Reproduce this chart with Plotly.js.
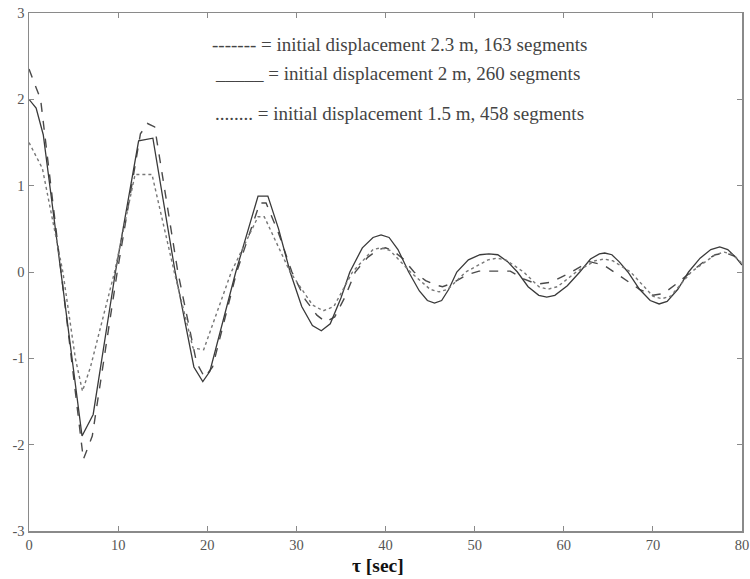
<!DOCTYPE html>
<html>
<head>
<meta charset="utf-8">
<script src="https://cdn.plot.ly/plotly-3.0.1.min.js"></script>
<style>html,body{margin:0;padding:0;background:#fff;}#chart{width:750px;height:579px;}</style>
</head>
<body>
<div id="chart"></div>
<script>
// Series: initial displacement 2 m, 260 segments (solid)
const tSolid = [0, 0.8, 1.6, 3.6, 5.95, 7.2, 9.7, 12.3, 13.9, 16.4, 18.5, 19.5, 20.3, 23.2, 25.7, 26.8, 28.0, 29.3, 30.6, 31.8, 32.8, 33.8, 35.0, 36.0, 37.4, 38.6, 39.5, 40.4, 41.4, 42.6, 43.8, 44.7, 45.5, 46.3, 47.1, 48.0, 49.3, 50.6, 51.6, 52.6, 53.7, 54.8, 56.0, 57.2, 58.1, 59.0, 60.4, 61.8, 63.0, 64.0, 64.6, 65.4, 66.2, 67.2, 68.5, 69.7, 70.7, 71.6, 72.8, 74.0, 75.3, 76.5, 77.5, 78.4, 79.3, 80];
const vSolid = [2.0, 1.9, 1.59, 0, -1.9, -1.65, 0, 1.52, 1.55, 0, -1.1, -1.27, -1.15, 0, 0.88, 0.88, 0.5, 0, -0.4, -0.62, -0.68, -0.6, -0.3, 0, 0.28, 0.4, 0.43, 0.4, 0.26, 0, -0.22, -0.33, -0.36, -0.33, -0.2, 0, 0.14, 0.2, 0.21, 0.2, 0.12, 0, -0.17, -0.27, -0.29, -0.27, -0.16, 0, 0.15, 0.21, 0.22, 0.2, 0.12, 0, -0.2, -0.33, -0.37, -0.34, -0.2, 0, 0.16, 0.26, 0.29, 0.26, 0.17, 0.08];

// Series: initial displacement 2.3 m, 163 segments (dashed)
const tDashed = [0, 1.3, 3.6, 6.1, 7.1, 9.9, 12.5, 13.3, 14.1, 16.7, 18.8, 19.7, 20.6, 23.3, 25.9, 26.6, 28.0, 29.5, 31.0, 32.3, 33.3, 34.3, 35.5, 36.6, 38.0, 39.2, 40.0, 40.8, 42.0, 43.2, 44.5, 45.6, 46.4, 47.5, 49.2, 50.5, 54.0, 55.5, 57.0, 58.5, 60.5, 62.9, 64.5, 66.3, 68.5, 70.0, 71.2, 72.6, 74.0, 75.6, 77.0, 78.2, 79.2, 80];
const vDashed = [2.35, 2.0, 0, -2.17, -1.9, 0, 1.6, 1.72, 1.68, 0, -1.05, -1.22, -1.1, 0, 0.8, 0.8, 0.45, 0, -0.32, -0.5, -0.58, -0.52, -0.28, 0, 0.17, 0.26, 0.28, 0.25, 0.15, 0, -0.1, -0.15, -0.17, -0.13, -0.03, 0.01, 0.01, -0.08, -0.14, -0.12, -0.02, 0.12, 0.08, -0.05, -0.2, -0.27, -0.25, -0.14, -0.02, 0.11, 0.2, 0.22, 0.18, 0.1];

// Series: initial displacement 1.5 m, 458 segments (dotted)
const tDotted = [0, 1.5, 3.8, 5.2, 6.0, 6.9, 9.6, 11.9, 13.8, 16.3, 18.4, 19.6, 22.7, 25.7, 26.4, 29.3, 31.8, 33.0, 34.2, 36.3, 38.6, 39.5, 40.5, 42.8, 45.0, 46.0, 47.0, 49.0, 51.5, 52.5, 53.5, 55.5, 57.2, 58.2, 59.3, 61.4, 63.5, 64.5, 65.5, 67.5, 70.0, 71.0, 72.0, 74.3, 77.0, 78.0, 79.0, 80];
const vDotted = [1.5, 1.2, 0, -1.0, -1.38, -1.1, 0, 1.13, 1.13, 0, -0.88, -0.9, 0, 0.64, 0.64, 0, -0.38, -0.45, -0.4, 0, 0.26, 0.28, 0.25, 0, -0.2, -0.23, -0.2, 0, 0.14, 0.16, 0.14, 0, -0.17, -0.2, -0.17, 0, 0.13, 0.15, 0.13, 0, -0.28, -0.31, -0.28, 0, 0.2, 0.23, 0.2, 0.1];

// Tick labels
const xTickVals = [0, 10, 20, 30, 40, 50, 60, 70, 80];
const xTickText = ['0', '10', '20', '30', '40', '50', '60', '70', '80'];
const yTickVals = [-3, -2, -1, 0, 1, 2, 3];
const yTickText = ['-3', '-2', '-1', '0', '1', '2', '3'];

// Axis title
const xTitleText = '<b>τ [sec]</b>';

// Legend labels (drawn as text in the original)
const legendTexts = [
  '------- = initial displacement 2.3 m, 163 segments',
  '_____ = initial displacement 2 m, 260 segments',
  '........ = initial displacement 1.5 m, 458 segments'
];
const legendX = [20.3, 20.65, 20.65];
const legendY = [2.63, 2.305, 1.84];

const serif = 'Liberation Serif, Times New Roman, serif';
const W = 750, H = 579, M = {l: 29, r: 8, t: 13, b: 48};

const traces = [
  {x: tDashed, y: vDashed, mode: 'lines', line: {color: '#4a4a4a', width: 1.4, dash: 'dash'}, hoverinfo: 'skip'},
  {x: tSolid, y: vSolid, mode: 'lines', line: {color: '#3a3a3a', width: 1.3}, hoverinfo: 'skip'},
  {x: tDotted, y: vDotted, mode: 'lines', line: {color: '#777777', width: 1.4, dash: 'dot'}, hoverinfo: 'skip'}
];

const axisCommon = {
  showgrid: false, zeroline: false, showline: true, linecolor: '#8a8a8a', linewidth: 1.5,
  mirror: 'ticks', ticks: 'inside', ticklen: 5, tickcolor: '#8a8a8a', tickwidth: 1,
  tickfont: {family: serif, size: 14.5, color: '#555'}, tickmode: 'array'
};

const annotations = legendTexts.map((t, i) => ({
  x: legendX[i], y: legendY[i], xref: 'x', yref: 'y', xanchor: 'left', yanchor: 'middle',
  text: t, showarrow: false, font: {family: serif, size: 19, color: '#444'}
}));
// x-axis title placed as an annotation resting on the bottom edge of the figure
annotations.push({
  x: 0.489, y: -M.b / (H - M.t - M.b), xref: 'paper', yref: 'paper', xanchor: 'center', yanchor: 'bottom',
  yshift: 1, text: xTitleText, showarrow: false,
  font: {family: serif, size: 19.5, color: '#111'}
});

const layout = {
  width: W, height: H,
  margin: M,
  paper_bgcolor: '#fff', plot_bgcolor: '#fff',
  showlegend: false,
  xaxis: Object.assign({}, axisCommon, {
    range: [0, 80], tickvals: xTickVals, ticktext: xTickText
  }),
  yaxis: Object.assign({}, axisCommon, {
    range: [-3, 3], tickvals: yTickVals, ticktext: yTickText
  }),
  annotations: annotations
};

Plotly.newPlot('chart', traces, layout, {staticPlot: true, displayModeBar: false});
</script>
</body>
</html>
